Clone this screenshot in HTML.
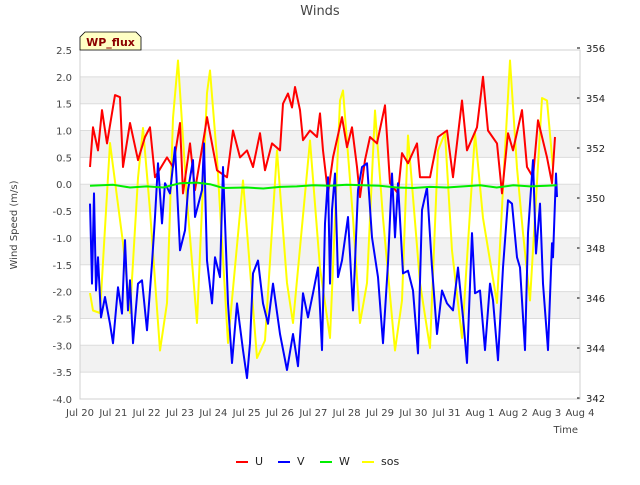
<!DOCTYPE html>
<html><head><meta charset="utf-8"><style>
body{margin:0;background:#fff;font-family:"Liberation Sans","DejaVu Sans",sans-serif}
</style></head><body>
<svg id="c" width="640" height="480" xmlns="http://www.w3.org/2000/svg" font-family="DejaVu Sans, Liberation Sans, sans-serif">
<rect width="640" height="480" fill="#fff"/>
<text x="320" y="15" text-anchor="middle" font-size="13" fill="#444">Winds</text>
<text transform="translate(17,225) rotate(-90)" text-anchor="middle" font-size="10" fill="#444">Wind Speed (m/s)</text>
<text x="578" y="433" text-anchor="end" font-size="10" fill="#444">Time</text>
<g id="grid"></g><g id="series"></g><g id="axes"></g>
<g>
<path d="M80,50 L80,37 L85,32 L136,32 L141,37 L141,50 Z" fill="#ffffc4" stroke="#000" stroke-width="0.8"/>
<text x="110.5" y="46" text-anchor="middle" font-size="11" font-weight="bold" fill="#8b0000">WP_flux</text>
</g>
<g id="legend" font-size="11" fill="#222"></g>
</svg>
<script>
const xTicks=["Jul 20","Jul 21","Jul 22","Jul 23","Jul 24","Jul 25","Jul 26","Jul 27","Jul 28","Jul 29","Jul 30","Jul 31","Aug 1","Aug 2","Aug 3","Aug 4"];
const leftTicks=[2.5,2.0,1.5,1.0,0.5,0.0,-0.5,-1.0,-1.5,-2.0,-2.5,-3.0,-3.5,-4.0];
const rightTicks=[342,344,346,348,350,352,354,356];
const uTime=[0.30,0.39,0.54,0.66,0.81,1.05,1.2,1.29,1.5,1.74,1.95,2.1,2.25,2.61,2.79,3.0,3.09,3.3,3.45,3.75,3.81,4.11,4.41,4.59,4.8,5.01,5.19,5.4,5.55,5.76,6.0,6.09,6.24,6.36,6.45,6.6,6.69,6.9,7.11,7.2,7.29,7.44,7.59,7.86,8.01,8.16,8.31,8.4,8.55,8.7,8.91,9.15,9.3,9.54,9.66,9.84,10.11,10.2,10.5,10.74,11.01,11.19,11.46,11.61,11.91,12.09,12.24,12.51,12.66,12.84,12.99,13.26,13.41,13.59,13.74,14.01,14.16,14.25];
const uVals=[0.32,1.06,0.63,1.38,0.76,1.66,1.62,0.32,1.14,0.45,0.88,1.06,0.13,0.5,0.32,1.14,-0.17,0.76,-0.11,1.0,1.25,0.26,0.13,1.0,0.5,0.63,0.32,0.95,0.26,0.76,0.63,1.5,1.69,1.43,1.81,1.38,0.82,1.0,0.88,1.32,0.63,-0.17,0.5,1.25,0.69,1.06,0.32,-0.24,0.45,0.88,0.76,1.47,0.02,-0.17,0.58,0.39,0.76,0.13,0.13,0.88,1.0,0.13,1.56,0.63,1.06,2.0,1.0,0.76,-0.17,0.95,0.63,1.38,0.32,0.13,1.19,0.5,0.02,0.88];
const vTime=[0.30,0.36,0.42,0.48,0.54,0.63,0.75,0.9,0.99,1.14,1.26,1.35,1.44,1.5,1.59,1.74,1.86,2.01,2.16,2.25,2.34,2.46,2.55,2.7,2.85,3.0,3.15,3.24,3.39,3.45,3.66,3.72,3.81,3.96,4.05,4.2,4.29,4.44,4.56,4.71,4.89,5.01,5.1,5.19,5.34,5.49,5.64,5.79,6.0,6.21,6.39,6.54,6.69,6.84,6.99,7.14,7.26,7.35,7.44,7.5,7.56,7.65,7.74,7.86,8.04,8.19,8.34,8.46,8.61,8.76,8.94,9.09,9.24,9.36,9.45,9.54,9.69,9.84,9.99,10.14,10.26,10.41,10.56,10.71,10.86,11.01,11.19,11.34,11.49,11.61,11.76,11.85,12.0,12.15,12.3,12.39,12.54,12.69,12.84,12.96,13.11,13.2,13.35,13.44,13.59,13.68,13.8,13.89,14.04,14.16,14.19,14.28,14.31];
const vVals=[-0.36,-1.85,-0.17,-1.98,-1.36,-2.48,-2.1,-2.6,-2.96,-1.92,-2.41,-1.04,-2.35,-1.79,-2.96,-1.85,-1.79,-2.72,-1.47,-0.61,0.39,-0.73,0.02,-0.17,0.69,-1.23,-0.86,-0.11,0.45,-0.61,-0.11,0.76,-1.42,-2.22,-1.36,-1.73,0.32,-2.22,-3.33,-2.22,-3.09,-3.61,-2.96,-1.66,-1.42,-2.22,-2.6,-1.85,-2.79,-3.46,-2.79,-3.39,-2.03,-2.48,-2.03,-1.55,-3.09,-0.73,0.13,-1.85,-0.48,0.2,-1.73,-1.42,-0.61,-2.35,-0.11,0.32,0.39,-0.99,-1.73,-2.96,-1.47,0.2,-0.99,0.02,-1.66,-1.61,-1.98,-3.15,-0.48,-0.06,-1.55,-2.79,-1.98,-2.22,-2.35,-1.55,-2.48,-3.33,-0.91,-2.03,-1.98,-3.09,-1.85,-2.16,-3.28,-1.55,-0.3,-0.36,-1.36,-1.55,-3.09,-0.91,0.45,-1.29,-0.36,-1.85,-3.09,-1.1,-1.36,0.2,-0.24];
const wTime=[0.3,1.0,1.5,2.0,2.5,3.0,3.5,3.9,4.3,5.0,5.5,6.0,6.5,7.0,7.5,8.0,8.5,9.0,9.5,10.0,10.5,11.0,11.5,12.0,12.5,13.0,13.5,14.0,14.3];
const wVals=[-0.03,-0.01,-0.06,-0.04,-0.06,0.02,0.03,0.0,-0.07,-0.06,-0.08,-0.05,-0.04,-0.02,-0.03,-0.01,-0.02,-0.03,-0.06,-0.07,-0.05,-0.06,-0.04,-0.02,-0.06,-0.02,-0.04,-0.03,-0.02];
const sosTime=[0.30,0.39,0.60,0.90,1.29,1.50,1.74,1.89,2.10,2.40,2.61,2.79,2.94,3.21,3.51,3.81,3.90,4.11,4.44,4.89,5.31,5.55,5.91,6.21,6.39,6.90,7.20,7.50,7.80,7.89,8.19,8.40,8.61,8.85,9.09,9.45,9.66,9.84,10.20,10.50,10.74,10.95,11.16,11.46,11.85,12.09,12.51,12.75,12.90,13.11,13.29,13.50,13.86,14.01,14.19];
const sosVals=[346.2,345.5,345.4,352.2,348.2,345.4,350.8,352.8,349.5,343.9,345.8,353.2,355.5,349.9,345.0,354.2,355.1,351.6,344.2,350.7,343.6,344.3,351.9,346.6,345.0,352.3,347.2,344.4,353.9,354.3,349.2,345.0,346.6,353.5,349.2,343.9,345.9,352.5,346.6,344.0,351.9,352.6,347.9,344.4,352.6,349.2,345.8,351.9,355.5,351.2,348.6,345.9,354.0,353.9,351.2];

const X0=80,X1=580,YT=50,YB=399;
const xs=t=>X0+(X1-X0)*t/15;
const yL=v=>YT+(2.5-v)*(YB-YT)/6.5;
const yR=v=>48+(356-v)*(398-48)/14;
const NS="http://www.w3.org/2000/svg";
function mk(tag,attrs,parent,txt){const e=document.createElementNS(NS,tag);for(const k in attrs)e.setAttribute(k,attrs[k]);if(txt!==undefined)e.textContent=txt;parent.appendChild(e);return e;}
const grid=document.getElementById('grid'),axes=document.getElementById('axes'),series=document.getElementById('series'),legend=document.getElementById('legend');
for(let i=0;i<leftTicks.length-1;i++){
  const v=leftTicks[i];
  if(Math.round(v*2)%2===0 && v<2.5){const b=mk('rect',{x:X0,y:yL(v),width:X1-X0,height:yL(v-0.5)-yL(v),fill:'#f2f2f2'},grid);
  
  }
}
leftTicks.forEach(v=>{
  const l=mk('line',{x1:X0,x2:X1,y1:yL(v),y2:yL(v),stroke:'#dcdcdc','stroke-width':1},grid);
  
  
  const t=mk('text',{x:72,y:yL(v)+4,'text-anchor':'end','font-size':10,fill:'#444'},axes,v.toFixed(1));
  
  
});
rightTicks.forEach(v=>{
  const t=mk('text',{x:586,y:yR(v)+4,'font-size':10,fill:'#222'},axes,String(v));
  
  
  const k=mk('line',{x1:X1-3,x2:X1,y1:yR(v),y2:yR(v),stroke:'#000'},axes);
  
  
});
xTicks.forEach((s,i)=>{
  const t=mk('text',{x:xs(i),y:416,'text-anchor':'middle','font-size':10,fill:'#444'},axes,s);
  
  
});
const fr=mk('rect',{x:X0,y:YT,width:X1-X0,height:YB-YT,fill:'none',stroke:'#d0d0d0'},axes);


function line(ts,vs,yf,color,name){
  const d=ts.map((t,i)=>(i?'L':'M')+xs(t).toFixed(1)+','+yf(vs[i]).toFixed(1)).join('');
  const p=mk('path',{d:d,fill:'none',stroke:color,'stroke-width':2,'stroke-linejoin':'round'},series);
  
  
}
line(sosTime,sosVals,yR,'#ffff00','sos-line');
line(uTime,uVals,yL,'#ff0000','u-line');
line(vTime,vVals,yL,'#0000ff','v-line');
line(wTime,wVals,yL,'#00ee00','w-line');
const leg=[['U','#ff0000',236],['V','#0000ff',278],['W','#00ee00',320],['sos','#ffff00',362]];
leg.forEach(([n,c,x])=>{
  const g=mk('g',{},legend);
  
  
  mk('line',{x1:x,x2:x+12,y1:462,y2:462,stroke:c,'stroke-width':2},g);
  mk('text',{x:x+19,y:465,'font-size':11,fill:'#222'},g,n);
});
</script>
</body></html>
